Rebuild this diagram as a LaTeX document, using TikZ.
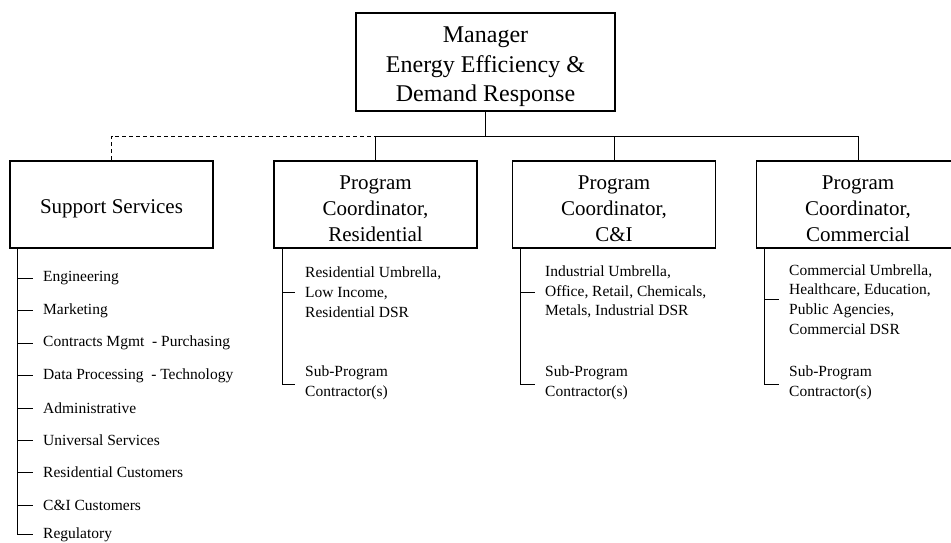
\documentclass[tikz,border=0pt]{standalone}
\usepackage{fontspec}
\setmainfont{Liberation Serif}
\newcommand{\dnA}{\rule{0pt}{23pt}}
\newcommand{\dnB}{\rule{0pt}{26pt}}
\begin{document}
\begin{tikzpicture}[x=1pt,y=-1pt,
  box/.style={draw, line width=1.6pt, minimum width=203pt, minimum height=87pt, align=center,
    font=\fontsize{21}{26}\selectfont, inner sep=0pt},
  item/.style={anchor=west, inner xsep=10pt, inner ysep=0pt, align=left,
    font=\fontsize{15.5}{19.7}\selectfont},
  conn/.style={line width=0.8pt},
  dconn/.style={line width=0.8pt, dash pattern=on 4pt off 3pt}]
\useasboundingbox (0,0) rectangle (951,542);
% boxes
\node[box, minimum width=259pt, minimum height=98pt, font=\fontsize{24}{29.5}\selectfont] (mgr) at (485.5,62) {\dnB Manager\\Energy Efficiency \&\\Demand Response};
\node[box] (sup) at (111.5,204.5) {\dnA Support Services};
\node[box] (res) at (375.5,204.5) {\dnA Program\\Coordinator,\\Residential};
\node[box] (ci) at (614,204.5) {\dnA Program\\Coordinator,\\C\&I};
\node[box] (com) at (858,204.5) {\dnA Program\\Coordinator,\\Commercial};
% bus
\coordinate (bus) at (485.5,136);
\draw[conn] (mgr.south) -- (bus);
\draw[conn] (res.north) -- (res.north |- bus) -- (com.north |- bus) -- (com.north);
\draw[conn] (ci.north) -- (ci.north |- bus);
\draw[dconn] (sup.north) -- (sup.north |- bus) -- (res.north |- bus);
% support list
\coordinate (supstem) at ([xshift=8pt]sup.south west);
\node[item] (s1) at (33,278) {Engineering};
\node[item] (s2) at (33,310.5) {Marketing};
\node[item] (s3) at (33,343) {Contracts Mgmt\ \ - Purchasing};
\node[item] (s4) at (33,375.5) {Data Processing\ \ - Technology};
\node[item] (s5) at (33,408) {Administrative};
\node[item] (s6) at (33,440.5) {Universal Services};
\node[item] (s7) at (33,472.5) {Residential Customers};
\node[item] (s8) at (33,505) {C\&I Customers};
\node[item] (s9) at (33,534.5) {Regulatory};
\foreach \i in {1,...,9} {\draw[conn] (supstem) |- (s\i.west);}
% residential
\coordinate (resstem) at ([xshift=9pt]res.south west);
\node[item] (r1) at (295,292) {Residential Umbrella,\\Low Income,\\Residential DSR};
\node[item] (r2) at (295,383) {Sub-Program\\Contractor(s)};
\draw[conn] (resstem |- r1.west) -- (r1.west);
\draw[conn] (resstem) |- ([yshift=-1.5pt]r2.west);
% C&I
\coordinate (cistem) at ([xshift=9pt]ci.south west);
\node[item] (c1) at (535,292) {Industrial Umbrella,\\Office, Retail, Chemicals,\\Metals, Industrial DSR};
\node[item] (c2) at (535,383) {Sub-Program\\Contractor(s)};
\draw[conn] (cistem |- c1.west) -- (c1.west);
\draw[conn] (cistem) |- ([yshift=-1.5pt]c2.west);
% Commercial
\coordinate (comstem) at ([xshift=9pt]com.south west);
\node[item] (m1) at (779,299.5) {Commercial Umbrella,\\Healthcare, Education,\\Public Agencies,\\Commercial DSR};
\node[item] (m2) at (779,383) {Sub-Program\\Contractor(s)};
\draw[conn] (comstem |- m1.west) -- (m1.west);
\draw[conn] (comstem) |- ([yshift=-1.5pt]m2.west);
\end{tikzpicture}
\end{document}
